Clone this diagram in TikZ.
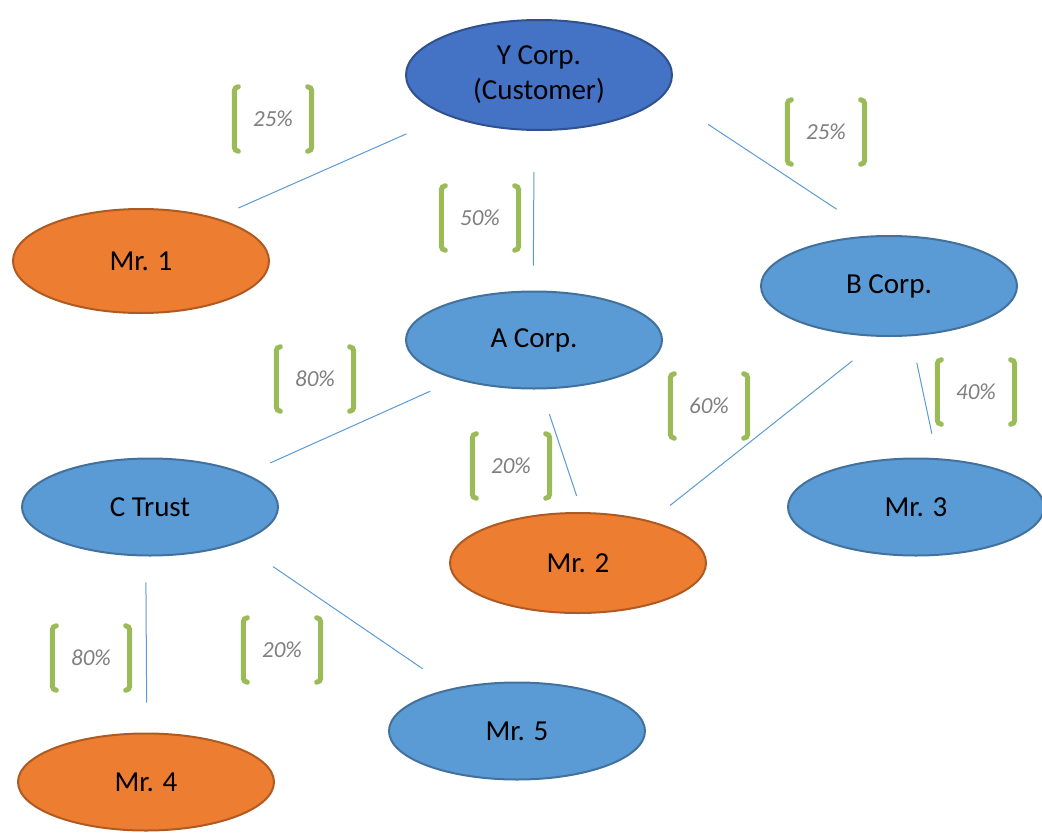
\documentclass[tikz,border=0pt]{standalone}
\usepackage{fontspec}
\setmainfont{Carlito}
\usepackage{tikz}
\usetikzlibrary{shapes.geometric}
\definecolor{corpFill}{HTML}{5B9BD5}
\definecolor{corpEdge}{HTML}{41719C}
\definecolor{custFill}{HTML}{4472C4}
\definecolor{custEdge}{HTML}{2F528F}
\definecolor{personFill}{HTML}{ED7D31}
\definecolor{personEdge}{HTML}{AE5A21}
\definecolor{shareGreen}{HTML}{9BBB59}
\definecolor{shareText}{HTML}{7F7F7F}
\newcommand{\drawShare}[3]{\node [share] (#1) at #2 {#3};
    \draw [bracket] ([xshift=4pt]#1.north west) -- (#1.north west) -- (#1.south west) -- ([xshift=4pt]#1.south west);
    \draw [bracket] ([xshift=-4pt]#1.north east) -- (#1.north east) -- (#1.south east) -- ([xshift=-4pt]#1.south east)}

\begin{document}
\begin{tikzpicture}[x=1pt, y=-1pt,
    entity/.style={ellipse, line width=2pt, minimum width=256pt, minimum height=97pt,
        inner sep=0pt, outer sep=0pt, align=center, font=\fontsize{29}{35}\selectfont},
    corp/.style={entity, draw=corpEdge, fill=corpFill},
    cust/.style={entity, draw=custEdge, fill=custFill},
    person/.style={entity, draw=personEdge, fill=personFill},
    link/.style={corpFill, line width=1pt},
    share/.style={minimum width=77pt, minimum height=64pt, inner sep=0pt,
        text=shareText, font=\fontsize{23}{28}\selectfont\itshape},
    bracket/.style={shareGreen, line width=5pt, line cap=round, rounded corners=4pt}]
    \useasboundingbox (0,0) rectangle (1042,835);

    % the customer
    \node [cust, minimum width=266pt, minimum height=110pt] (y) at (539,75) {Y Corp.\\(Customer)};

    % owned by Y Corp.
    \node [person, minimum height=104pt] (m1) at (141,261) {Mr. 1};
    \node [corp] (a) at (534,340) {A Corp.};
    \node [corp, minimum height=100pt] (b) at (889,286) {B Corp.};

    % owned by A Corp. and B Corp.
    \node [corp] (c) at (150,507) {C Trust};
    \node [person, minimum height=100pt] (m2) at (578,563) {Mr. 2};
    \node [corp] (m3) at (916,507) {Mr. 3};

    % owned by C Trust
    \node [corp] (m5) at (517,731) {Mr. 5};
    \node [person] (m4) at (146,782) {Mr. 4};

    % links
    \draw [link, shorten <=46pt, shorten >=26pt] (y.204) -- (m1.30);
    \draw [link, shorten <=42pt, shorten >=26pt] (y.265) -- (a.91);
    \draw [link, shorten <=54pt, shorten >=49pt] (y.351) -- (b.103);
    \draw [link, shorten <=30pt, shorten >=28pt] (a.207) -- (c.19);
    \draw [link, shorten <=27pt, shorten >=18pt] (a.278) -- (m2.85);
    \draw [link, shorten <=40pt, shorten >=26pt] (b.264) -- (m2.30);
    \draw [link, shorten <=28pt, shorten >=26pt] (b.294) -- (m3.66);
    \draw [link, shorten <=27pt, shorten >=31pt] (c.265) -- (m4.89);
    \draw [link, shorten <=43pt, shorten >=36pt] (c.338) -- (m5.147);

    % shares
    \drawShare{s1}{(273,119)}{25\%};
    \drawShare{s2}{(480,218)}{50\%};
    \drawShare{s3}{(826,132)}{25\%};
    \drawShare{s4}{(315,379)}{80\%};
    \drawShare{s5}{(709,406)}{60\%};
    \drawShare{s6}{(976,392)}{40\%};
    \drawShare{s7}{(511,466)}{20\%};
    \drawShare{s8}{(91,658)}{80\%};
    \drawShare{s9}{(282,650)}{20\%};
\end{tikzpicture}
\end{document}
